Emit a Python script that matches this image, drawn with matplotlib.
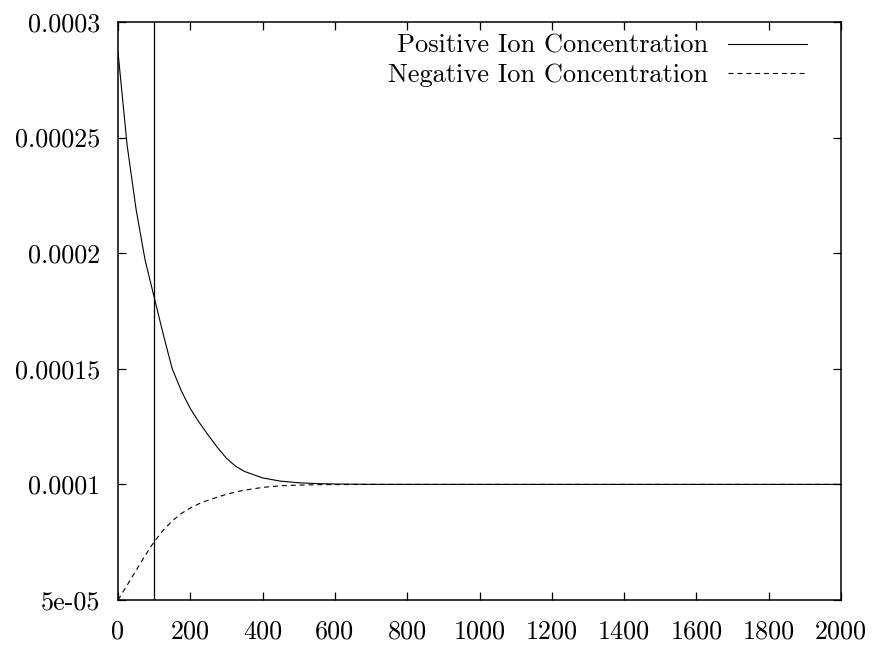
import matplotlib
matplotlib.use("Agg")
import matplotlib.pyplot as plt

plt.rcParams['font.family'] = ['cmr10', 'DejaVu Serif']
plt.rcParams['mathtext.fontset'] = 'cm'

# Data
time = [0, 25, 50, 75, 100, 125, 150, 175, 200, 225, 250, 275, 300, 325, 350,
        400, 450, 500, 550, 600, 700, 800, 1000, 1500, 2000]
positive = [2.87e-4, 2.47e-4, 2.19e-4, 1.97e-4, 1.81e-4, 1.65e-4, 1.50e-4,
            1.405e-4, 1.328e-4, 1.267e-4, 1.212e-4, 1.16e-4, 1.113e-4,
            1.079e-4, 1.056e-4, 1.028e-4, 1.014e-4, 1.007e-4, 1.0035e-4,
            1.0017e-4, 1.0004e-4, 1.0001e-4, 1.0e-4, 1.0e-4, 1.0e-4]
negative = [5.0e-5, 5.63e-5, 6.28e-5, 6.92e-5, 7.52e-5, 8.02e-5, 8.42e-5,
            8.74e-5, 8.98e-5, 9.17e-5, 9.32e-5, 9.45e-5, 9.57e-5, 9.67e-5,
            9.75e-5, 9.87e-5, 9.94e-5, 9.97e-5, 9.985e-5, 9.993e-5,
            9.998e-5, 1.0e-4, 1.0e-4, 1.0e-4, 1.0e-4]
marker_time = 100

xticks = [0, 200, 400, 600, 800, 1000, 1200, 1400, 1600, 1800, 2000]
yticks = [5e-5, 1e-4, 1.5e-4, 2e-4, 2.5e-4, 3e-4]
ytick_labels = ["5e-05", "0.0001", "0.00015", "0.0002", "0.00025", "0.0003"]

fig = plt.figure(figsize=(8.76, 6.46), dpi=100)
ax = fig.add_axes([118 / 876, 1 - 600 / 646, (841 - 118) / 876, (600 - 22) / 646])

ax.plot(time, positive, color='black', lw=0.8, label='Positive Ion Concentration')
ax.plot(time, negative, color='black', lw=0.8, ls=(0, (4.5, 3.5)),
        label='Negative Ion Concentration')
ax.axvline(marker_time, color='black', lw=0.9)

ax.set_xlim(0, 2000)
ax.set_ylim(5e-5, 3e-4)
ax.set_xticks(xticks)
ax.set_xticklabels([str(v) for v in xticks])
ax.set_yticks(yticks)
ax.set_yticklabels(ytick_labels)

for s in ax.spines.values():
    s.set_linewidth(1.1)
ax.tick_params(direction='in', length=6, width=0.9, labelsize=18.8,
               top=True, right=True)
ax.tick_params(axis='x', pad=14)
ax.tick_params(axis='y', pad=13)

ax.legend(loc='upper right', frameon=False, markerfirst=False, fontsize=19,
          handlelength=3.0, handletextpad=0.75, labelspacing=0.2,
          borderaxespad=0.1, bbox_to_anchor=(0.971, 1.002))

fig.savefig("out.png", dpi=100)
